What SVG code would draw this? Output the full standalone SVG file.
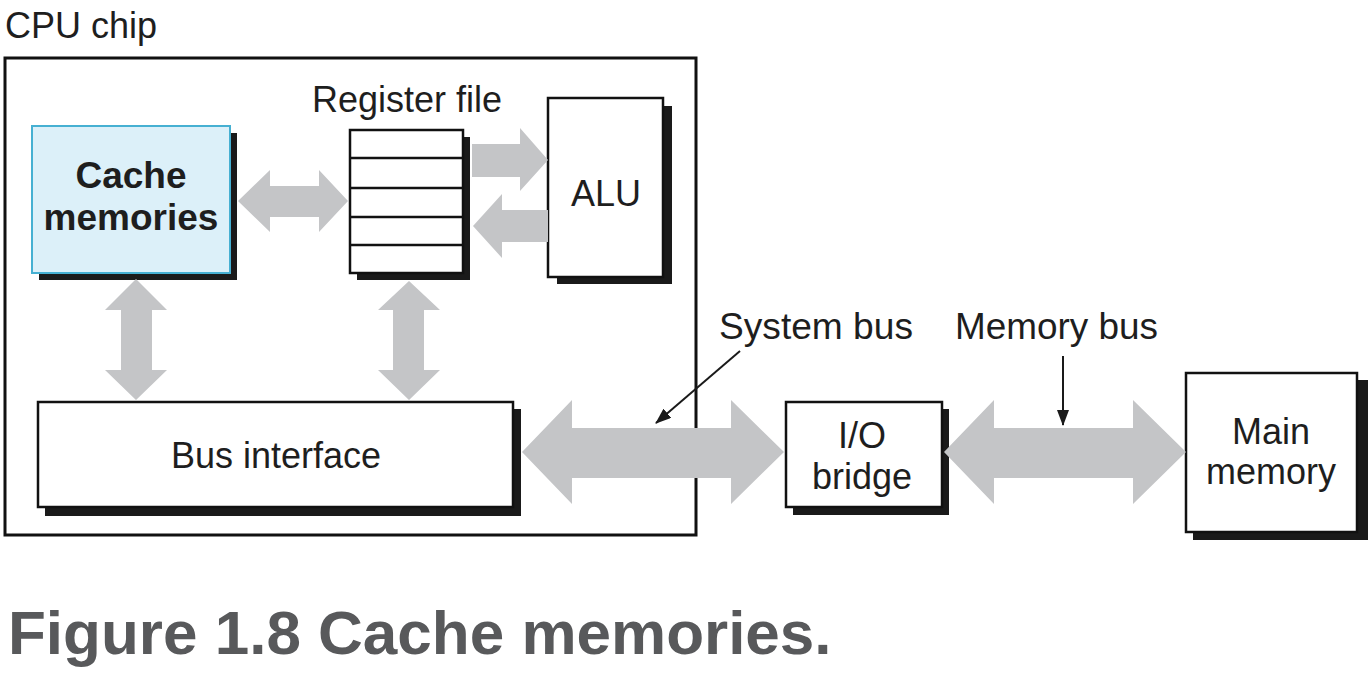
<svg xmlns="http://www.w3.org/2000/svg" width="1372" height="674" viewBox="0 0 1372 674">
<style>
  .t { font-family: "Liberation Sans", Arial, sans-serif; font-size: 36px; fill: #1e1e1e; }
  .c { text-anchor: middle; }
  .b { font-weight: bold; font-size: 37px; }
  .box { fill: #ffffff; stroke: #111111; stroke-width: 2.5; }
  .shadow { fill: #1a1a1a; }
  .bus { fill: #c4c5c7; }
  .ptr { stroke: #1a1a1a; stroke-width: 2; fill: none; }
  .cap { font-family: "Liberation Sans", Arial, sans-serif; font-size: 62px; font-weight: bold; fill: #58595b; }
</style>
<defs>
  <marker id="ah" viewBox="0 0 16 12" refX="15" refY="6" markerWidth="16" markerHeight="12" markerUnits="userSpaceOnUse" orient="auto">
    <path d="M0,0 L16,6 L0,12 z" fill="#1a1a1a"/>
  </marker>
</defs>
<rect width="1372" height="674" fill="#ffffff"/>

<g id="cpu-chip">
  <text class="t" x="5" y="38">CPU chip</text>
  <rect x="5" y="58" width="691" height="477" fill="none" stroke="#111111" stroke-width="3"/>
</g>

<g id="cache-memories">
  <rect class="shadow" x="39" y="133" width="198" height="147"/>
  <rect x="32" y="126" width="198" height="147" fill="#dcf0f9" stroke="#46b0d2" stroke-width="2"/>
  <text class="t b c" x="131" y="188">Cache</text>
  <text class="t b c" x="131" y="230">memories</text>
</g>

<g id="register-file">
  <text class="t" x="312" y="112">Register file</text>
  <rect class="shadow" x="357" y="137" width="113" height="143"/>
  <rect class="box" x="350" y="130" width="113" height="143"/>
  <line x1="350" y1="158" x2="463" y2="158" stroke="#111111" stroke-width="2.5"/>
  <line x1="350" y1="188" x2="463" y2="188" stroke="#111111" stroke-width="2.5"/>
  <line x1="350" y1="217" x2="463" y2="217" stroke="#111111" stroke-width="2.5"/>
  <line x1="350" y1="245" x2="463" y2="245" stroke="#111111" stroke-width="2.5"/>
</g>

<g id="alu">
  <rect class="shadow" x="557" y="106" width="115" height="178"/>
  <rect class="box" x="548" y="98" width="115" height="179"/>
  <text class="t c" x="606" y="206">ALU</text>
</g>

<g id="bus-interface">
  <rect class="shadow" x="45" y="409" width="476" height="107"/>
  <rect class="box" x="38" y="402" width="475" height="105"/>
  <text class="t c" x="276" y="468">Bus interface</text>
</g>

<g id="io-bridge">
  <rect class="shadow" x="793" y="409" width="156" height="106"/>
  <rect class="box" x="786" y="402" width="156" height="105"/>
  <text class="t c" x="862" y="448">I/O</text>
  <text class="t c" x="862" y="489">bridge</text>
</g>

<g id="main-memory">
  <rect class="shadow" x="1193" y="380" width="175" height="160"/>
  <rect class="box" x="1186" y="373" width="171" height="159"/>
  <text class="t c" x="1271" y="444">Main</text>
  <text class="t c" x="1271" y="484">memory</text>
</g>

<g id="connectors">
  <!-- cache <-> register file -->
  <polygon class="bus" points="238,201 270,170 270,186 319,186 319,170 348,201 319,232 319,217 270,217 270,232"/>
  <!-- register file -> ALU -->
  <polygon class="bus" points="472,144 520,144 520,128 548,160 520,191 520,177 472,177"/>
  <!-- ALU -> register file -->
  <polygon class="bus" points="548,210 502,210 502,194 473,226 502,258 502,242 548,242"/>
  <!-- cache <-> bus interface -->
  <polygon class="bus" points="136,279 167,310 152,310 152,370 167,370 136,400 105,370 121,370 121,310 105,310"/>
  <!-- register file <-> bus interface -->
  <polygon class="bus" points="409,281 440,310 424,310 424,370 440,370 409,400 378,370 393,370 393,310 378,310"/>
  <!-- system bus -->
  <polygon class="bus" points="522,452 572,400 572,428 731,428 731,400 784,452 731,504 731,478 572,478 572,504"/>
  <!-- memory bus -->
  <polygon class="bus" points="944,452 994,400 994,428 1133,428 1133,400 1186,452 1133,504 1133,478 994,478 994,504"/>
  <!-- labels with pointers -->
  <text class="t" x="719" y="339" textLength="194" lengthAdjust="spacingAndGlyphs">System bus</text>
  <line class="ptr" x1="740" y1="351" x2="656" y2="423" marker-end="url(#ah)"/>
  <text class="t" x="955" y="339" textLength="203" lengthAdjust="spacingAndGlyphs">Memory bus</text>
  <line class="ptr" x1="1063" y1="356" x2="1063" y2="425" marker-end="url(#ah)"/>
</g>

<text class="cap" x="8" y="654">Figure 1.8 Cache memories.</text>
</svg>
